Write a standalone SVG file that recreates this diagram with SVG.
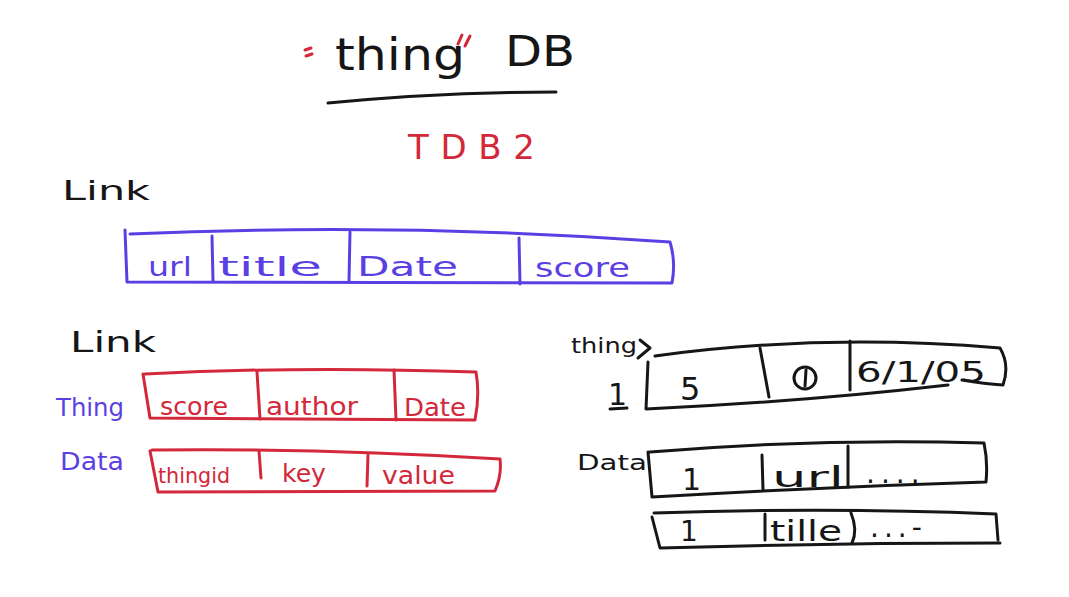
<svg xmlns="http://www.w3.org/2000/svg" width="1069" height="597" viewBox="0 0 1069 597">
<style>
.k{stroke:#161616;fill:none;stroke-width:3;stroke-linecap:round;stroke-linejoin:round}
.b{stroke:#5b3fe3;fill:none;stroke-width:3;stroke-linecap:round;stroke-linejoin:round}
.r{stroke:#d3283a;fill:none;stroke-width:3;stroke-linecap:round;stroke-linejoin:round}
text{font-family:"DejaVu Sans","Liberation Sans",sans-serif}
.tk{fill:#161616}
.tb{fill:#5b3fe3}
.tr{fill:#d3283a}
</style>
<rect width="1069" height="597" fill="#ffffff"/>

<g id="title">
<path class="r" d="M305 50 L311 48 M306 56 L312 54 M458 44 L462 35 M465 46 L470 36"/>
<text x="335" y="70" font-size="44" class="tk" textLength="130" lengthAdjust="spacingAndGlyphs">thing</text>
<text x="505" y="66" font-size="42" class="tk" textLength="70" lengthAdjust="spacingAndGlyphs">DB</text>
<path class="k" d="M328 103 Q440 92 556 92"/>
<text x="408" y="159" font-size="34" class="tr" textLength="127" lengthAdjust="spacing">TDB2</text>
</g>

<g id="link-label-1">
<text x="62" y="200" font-size="26" class="tk" textLength="88" lengthAdjust="spacingAndGlyphs">Link</text>
</g>

<g id="link-table">
<path class="b" d="M125 230 L127 282 L672 283 Q676 262 670 242 Q400 222 130 234"/>
<path class="b" d="M212 236 L213 281 M350 232 L349 281 M519 238 L520 284"/>
<text x="148" y="276" font-size="27" class="tb" textLength="44" lengthAdjust="spacingAndGlyphs">url</text>
<text x="218" y="276" font-size="27" class="tb" textLength="104" lengthAdjust="spacingAndGlyphs">title</text>
<text x="357" y="276" font-size="27" class="tb" textLength="101" lengthAdjust="spacingAndGlyphs">Date</text>
<text x="535" y="277" font-size="27" class="tb" textLength="95" lengthAdjust="spacingAndGlyphs">score</text>
</g>

<g id="link-label-2">
<text x="70" y="352" font-size="28" class="tk" textLength="86" lengthAdjust="spacingAndGlyphs">Link</text>
</g>

<g id="thing-label">
<text x="56" y="416" font-size="24" class="tb" textLength="68" lengthAdjust="spacingAndGlyphs">Thing</text>
</g>
<g id="thing-table">
<path class="r" d="M143 374 L150 418 L475 420 Q480 395 476 372 Q300 366 145 374"/>
<path class="r" d="M257 372 L260 419 M394 370 L396 420"/>
<text x="160" y="415" font-size="24" class="tr" textLength="68" lengthAdjust="spacingAndGlyphs">score</text>
<text x="266" y="415" font-size="24" class="tr" textLength="92" lengthAdjust="spacingAndGlyphs">author</text>
<text x="404" y="416" font-size="24" class="tr" textLength="62" lengthAdjust="spacingAndGlyphs">Date</text>
</g>

<g id="data-label">
<text x="60" y="470" font-size="24" class="tb" textLength="64" lengthAdjust="spacingAndGlyphs">Data</text>
</g>
<g id="data-table">
<path class="r" d="M150 451 L158 492 L495 491 Q502 475 500 459 Q320 448 152 450"/>
<path class="r" d="M259 451 L261 478 M368 455 L367 486"/>
<text x="158" y="483" font-size="22" class="tr" textLength="72" lengthAdjust="spacingAndGlyphs">thingid</text>
<text x="282" y="482" font-size="24" class="tr" textLength="44" lengthAdjust="spacingAndGlyphs">key</text>
<text x="382" y="484" font-size="24" class="tr" textLength="73" lengthAdjust="spacingAndGlyphs">value</text>
</g>

<g id="thing-row-label">
<text x="571" y="353" font-size="22" class="tk" textLength="66" lengthAdjust="spacingAndGlyphs">thing</text>
<path class="k" d="M640 340 L650 348 L638 358"/>
<text x="608" y="405" font-size="30" class="tk">1</text>
<path class="k" d="M610 409 L627 408"/>
</g>
<g id="thing-row">
<path class="k" d="M648 362 L646 409 Q800 402 948 385"/>
<path class="k" d="M655 356 Q820 333 1000 348 Q1010 365 1003 385 Q985 384 962 380"/>
<path class="k" d="M760 348 L769 397 M850 341 L850 390"/>
<text x="680" y="400" font-size="32" class="tk">5</text>
<circle cx="805" cy="378" r="11" class="k" stroke-width="2.5"/>
<path class="k" d="M806 370 L805 386" stroke-width="2"/>
<text x="856" y="382" font-size="28" class="tk" textLength="130" lengthAdjust="spacingAndGlyphs">6/1/05</text>
</g>

<g id="data-row-label">
<text x="577" y="470" font-size="22" class="tk" textLength="70" lengthAdjust="spacingAndGlyphs">Data</text>
</g>
<g id="data-row-1">
<path class="k" d="M648 452 L652 497 Q820 487 986 482 Q988 462 984 443 Q820 438 650 452"/>
<path class="k" d="M762 455 L763 490 M848 446 L848 487"/>
<text x="682" y="490" font-size="30" class="tk">1</text>
<text x="772" y="487" font-size="28" class="tk" textLength="72" lengthAdjust="spacingAndGlyphs">url</text>
<text x="866" y="483" font-size="28" class="tk" letter-spacing="6">....</text>
</g>

<g id="data-row-2">
<path class="k" d="M654 513 Q830 507 996 514 L998 540 M652 517 L660 548 Q830 543 1000 543"/>
<path class="k" d="M765 514 L765 540 M851 513 Q858 530 852 543"/>
<text x="680" y="541" font-size="28" class="tk">1</text>
<text x="770" y="541" font-size="28" class="tk" textLength="72" lengthAdjust="spacingAndGlyphs">tille</text>
<text x="870" y="537" font-size="28" class="tk" letter-spacing="5">...-</text>
</g>
</svg>
